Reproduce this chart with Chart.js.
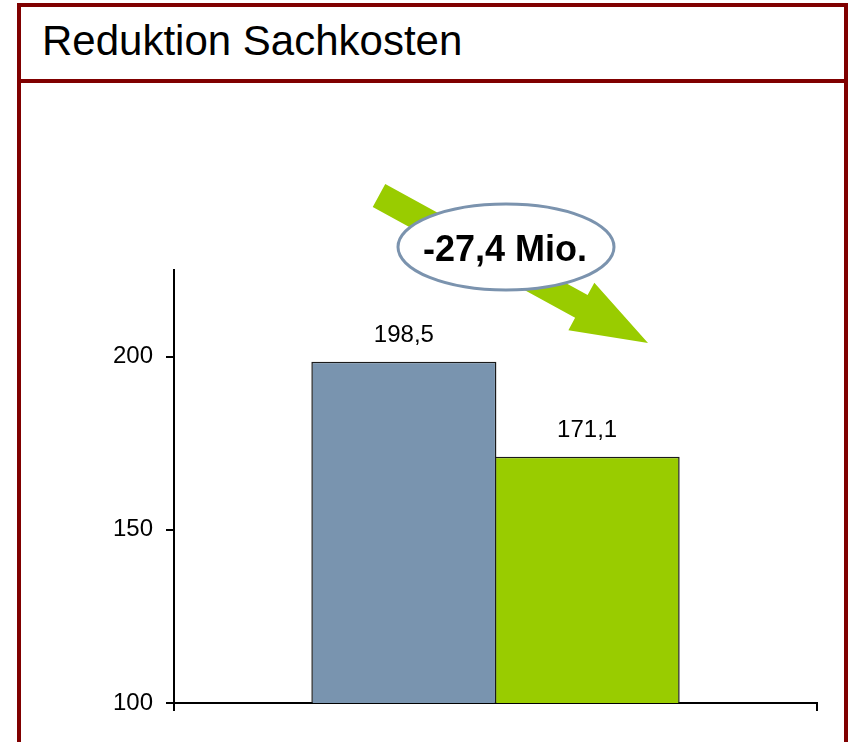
<!DOCTYPE html>
<html>
<head>
<meta charset="utf-8">
<script src="https://cdn.jsdelivr.net/npm/chart.js@4/dist/chart.umd.min.js"></script>
<style>
  html, body { margin: 0; padding: 0; width: 850px; height: 742px; overflow: hidden; background: #fff; }
  #frame {
    position: absolute; left: 17px; top: 3px; width: 823px; height: 800px;
    border: 4px solid #800000; border-bottom: none;
  }
  #head { position: relative; height: 72px; border-bottom: 4px solid #800000; }
  #head span {
    position: absolute; left: 21px; top: 13px;
    font-family: "Liberation Sans", Arial, sans-serif; font-size: 42px; line-height: 42px; color: #000;
  }
  #chart { position: absolute; left: 0; top: 0; }
</style>
</head>
<body>
<div id="frame"><div id="head"><span>Reduktion Sachkosten</span></div></div>
<canvas id="chart" width="850" height="742"></canvas>
<script>
// values (Mio.)
const categories = ['Sachkosten'];
const seriesNames = ['vorher', 'nachher'];
const seriesValues = [198.5, 171.1];
const seriesColors = ['#7994af', '#99cc00'];
const yTicks = [100, 150, 200];
const deltaLabel = '-27,4 Mio.';

const fontFamily = '"Liberation Sans", Arial, sans-serif';

const valueLabels = {
  id: 'valueLabels',
  afterDatasetsDraw(chart) {
    const ctx = chart.ctx;
    ctx.save();
    ctx.font = '24px ' + fontFamily;
    ctx.fillStyle = '#000';
    ctx.textAlign = 'center';
    ctx.textBaseline = 'alphabetic';
    chart.data.datasets.forEach((ds, i) => {
      const bar = chart.getDatasetMeta(i).data[0];
      ctx.fillText(ds.data[0].toFixed(1).replace('.', ','), bar.x, bar.y - 20);
    });
    ctx.restore();
  }
};

// green arrow with the ellipse callout
const deltaCallout = {
  id: 'deltaCallout',
  afterDraw(chart) {
    const ctx = chart.ctx;
    const x0 = 379, y0 = 195.5, x1 = 648, y1 = 343;
    const len = Math.hypot(x1 - x0, y1 - y0);
    const ang = Math.atan2(y1 - y0, x1 - x0);
    const hw = 13, headW = 27, headL = 76;
    ctx.save();
    ctx.translate(x0, y0);
    ctx.rotate(ang);
    ctx.fillStyle = '#99cc00';
    ctx.beginPath();
    ctx.moveTo(0, -hw);
    ctx.lineTo(len - headL, -hw);
    ctx.lineTo(len - headL, -headW);
    ctx.lineTo(len, 0);
    ctx.lineTo(len - headL, headW);
    ctx.lineTo(len - headL, hw);
    ctx.lineTo(0, hw);
    ctx.closePath();
    ctx.fill();
    ctx.restore();

    ctx.save();
    ctx.beginPath();
    ctx.ellipse(506, 247, 108, 43, 0, 0, Math.PI * 2);
    ctx.fillStyle = '#fff';
    ctx.fill();
    ctx.lineWidth = 3;
    ctx.strokeStyle = '#7b93ae';
    ctx.stroke();
    ctx.font = 'bold 36px ' + fontFamily;
    ctx.fillStyle = '#000';
    ctx.textAlign = 'center';
    ctx.textBaseline = 'alphabetic';
    ctx.fillText(deltaLabel, 505, 261);
    ctx.restore();
  }
};

new Chart(document.getElementById('chart'), {
  type: 'bar',
  data: {
    labels: categories,
    datasets: seriesNames.map((name, i) => ({
      label: name,
      data: [seriesValues[i]],
      backgroundColor: seriesColors[i],
      borderColor: '#1a1a1a',
      borderWidth: 1.5,
      borderSkipped: false,
      barPercentage: 1.01,
      categoryPercentage: 0.57,
    })),
  },
  options: {
    responsive: false,
    animation: false,
    layout: { padding: { left: 0, top: 270, right: 33, bottom: 31 } },
    plugins: {
      legend: { display: false },
      tooltip: { enabled: false },
      title: { display: false },
    },
    scales: {
      x: {
        offset: true,
        ticks: { display: false },
        grid: { display: true, offset: true, drawOnChartArea: false, drawTicks: true, tickLength: 8, color: '#000', lineWidth: 2 },
        border: { display: true, color: '#000', width: 2 },
        afterFit: (scale) => { scale.height = 8; },
      },
      y: {
        min: 100,
        max: 225,
        afterBuildTicks: (scale) => { scale.ticks = yTicks.map(v => ({ value: v })); },
        afterFit: (scale) => { scale.width = 174; },
        ticks: { color: '#000', padding: 13, font: { family: fontFamily, size: 24 } },
        grid: { display: true, drawOnChartArea: false, drawTicks: true, tickLength: 8, color: '#000', lineWidth: 2 },
        border: { display: true, color: '#000', width: 2 },
      },
    },
  },
  plugins: [valueLabels, deltaCallout],
});
</script>
</body>
</html>
